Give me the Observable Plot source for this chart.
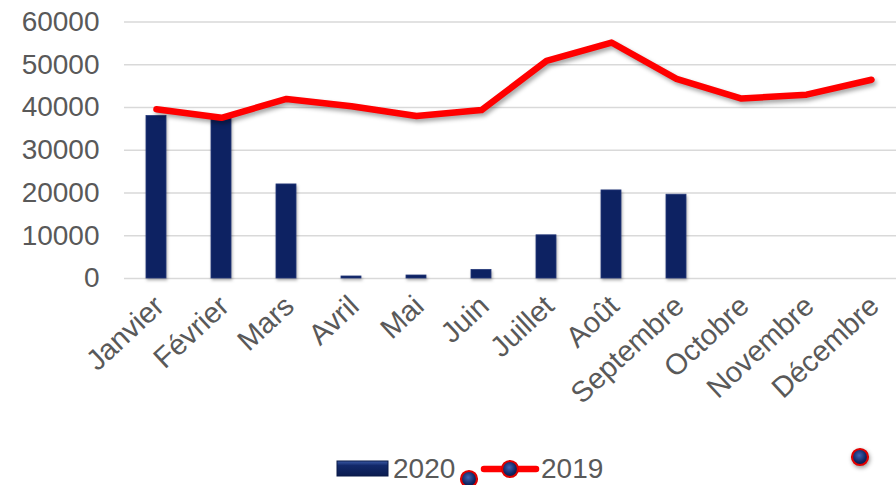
<!DOCTYPE html>
<html>
<head>
<meta charset="utf-8">
<script src="https://cdn.jsdelivr.net/npm/d3@7"></script>
<script src="https://cdn.jsdelivr.net/npm/@observablehq/plot@0.6"></script>
<style>
  html, body { margin: 0; padding: 0; background: #fff; overflow: hidden; }
  body { width: 896px; height: 485px; font-family: "Liberation Sans", Arial, sans-serif; }
  #chart { position: relative; width: 896px; height: 440px; }
  #legend { position: relative; width: 896px; height: 45px; color: #595959; font-size: 28px; line-height: 28px; }
  #legend .t { position: absolute; top: 15px; }
  #legend svg { position: absolute; left: 0; top: 0; overflow: visible; }
</style>
</head>
<body>
<div id="chart"></div>
<div id="legend">
  <svg width="896" height="45">
    <defs>
      <radialGradient id="dotg" cx="45%" cy="40%" r="60%">
        <stop offset="0%" stop-color="#3f63b3"/>
        <stop offset="70%" stop-color="#0f2563"/>
        <stop offset="100%" stop-color="#0a1a48"/>
      </radialGradient>
      <linearGradient id="swg" x1="0" y1="0" x2="0" y2="1">
        <stop offset="0%" stop-color="#3b5aa6"/>
        <stop offset="30%" stop-color="#13296a"/>
        <stop offset="100%" stop-color="#0a1c50"/>
      </linearGradient>
    </defs>
    <rect x="337" y="21" width="51" height="15" fill="url(#swg)" stroke="#0a1a48" stroke-width="1"/>
    <line x1="484" y1="29" x2="536" y2="29" stroke="#ff0000" stroke-width="6.5" stroke-linecap="round"/>
    <circle cx="510" cy="29" r="8" fill="url(#dotg)" stroke="#e00000" stroke-width="2.2"/>
    <circle cx="469" cy="39" r="8" fill="url(#dotg)" stroke="#e00000" stroke-width="2.2"/>
    <circle cx="860" cy="17" r="8" fill="url(#dotg)" stroke="#e00000" stroke-width="2.2" style="filter: drop-shadow(1px 2px 2px rgba(0,0,0,0.4))"/>
  </svg>
  <span class="t" id="l2020" style="left:393px">2020</span>
  <span class="t" id="l2019" style="left:541px">2019</span>
</div>
<script>
const months = ["Janvier","Février","Mars","Avril","Mai","Juin","Juillet","Août","Septembre","Octobre","Novembre","Décembre"];
const values2020 = [38000, 37700, 22000, 470, 700, 2000, 10100, 20600, 19600, null, null, null];
const values2019 = [39600, 37600, 42000, 40300, 38000, 39400, 50900, 55200, 46700, 42100, 43000, 46500];
const yTicks = [0, 10000, 20000, 30000, 40000, 50000, 60000];
const seriesNames = ["2020", "2019"];

const bars = months.map((m, i) => ({month: m, value: values2020[i]})).filter(d => d.value != null);
const line = months.map((m, i) => ({month: m, value: values2019[i]}));

const chart = Plot.plot({
  width: 896,
  height: 440,
  marginLeft: 124,
  marginRight: -8,
  marginTop: 21.5,
  marginBottom: 162,
  style: {fontFamily: '"Liberation Sans", Arial, sans-serif', fontSize: "28px", color: "#595959", background: "#fff", overflow: "visible"},
  x: {domain: months, paddingInner: 0.69, paddingOuter: 0.345, label: null},
  y: {domain: [0, 60000], label: null},
  marks: [
    Plot.gridY(yTicks, {stroke: "#d9d9d9", strokeWidth: 1.6, strokeOpacity: 1}),
    Plot.axisY(yTicks, {tickSize: 0, tickPadding: 25, tickFormat: d => String(d), label: null}),
    Plot.axisX({tickSize: 0, tickRotate: -43, tickPadding: 23, dx: 3, fontSize: 29, label: null}),
    Plot.barY(bars, {x: "month", y: "value", fill: "#0d2262", stroke: "#24387a", strokeWidth: 0.8}),
    Plot.line(line, {x: "month", y: "value", stroke: "#ff0000", strokeWidth: 6.5, strokeLinejoin: "round", strokeLinecap: "round"})
  ]
});
document.getElementById("chart").appendChild(chart);
d3.select(chart).selectAll('g[aria-label="line"] path').style("filter", "drop-shadow(2px 3px 2px rgba(0,0,0,0.35))");
d3.select(chart).selectAll('g[aria-label="bar"] rect').style("filter", "drop-shadow(1px 2px 1.5px rgba(0,0,0,0.3))");
document.getElementById("l2020").textContent = seriesNames[0];
document.getElementById("l2019").textContent = seriesNames[1];
</script>
</body>
</html>
